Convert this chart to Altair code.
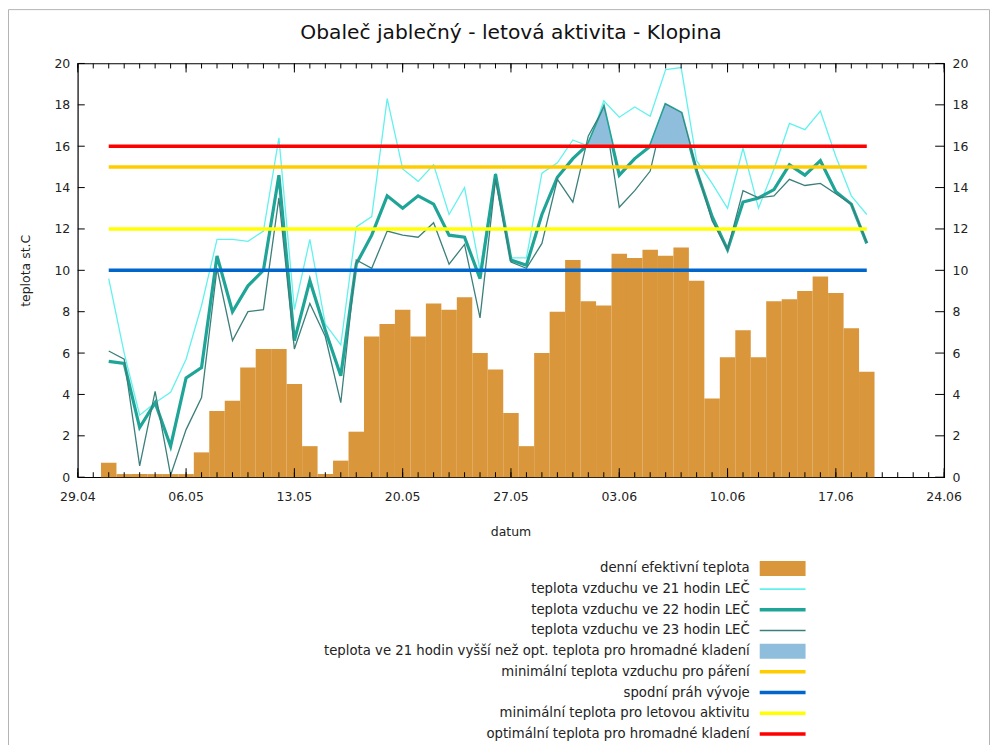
import altair as alt
import pandas as pd

# ---------------- data ----------------
first_day = "2023-05-01"
n_days = 50
dates = pd.date_range(first_day, periods=n_days, freq="D")  # 01.05 .. 19.06

effective = [0.7, 0.15, 0.15, 0.15, 0.15, 0.15, 1.2, 3.2, 3.7, 5.3,
             6.2, 6.2, 4.5, 1.5, 0.15, 0.8, 2.2, 6.8, 7.4, 8.1,
             6.8, 8.4, 8.1, 8.7, 6.0, 5.2, 3.1, 1.5, 6.0, 8.0,
             10.5, 8.5, 8.3, 10.8, 10.6, 11.0, 10.7, 11.1, 9.5, 3.8,
             5.8, 7.1, 5.8, 8.5, 8.6, 9.0, 9.7, 8.9, 7.2, 5.1]

t21 = [9.6, 6.0, 3.0, 3.6, 4.1, 5.7, 8.3, 11.5, 11.5, 11.4,
       11.9, 16.4, 8.1, 11.5, 7.4, 6.4, 12.1, 12.6, 18.3, 14.9,
       14.3, 15.1, 12.7, 14.0, 10.0, 14.7, 10.6, 10.6, 14.7, 15.2,
       16.3, 16.0, 18.2, 17.4, 17.9, 17.45, 19.7, 19.8, 15.3, 14.2,
       13.0, 15.9, 13.0, 14.9, 17.1, 16.8, 17.7, 15.5, 13.6, 12.7]

t22 = [5.6, 5.5, 2.4, 3.6, 1.5, 4.8, 5.3, 10.7, 8.0, 9.25,
       10.0, 14.6, 6.6, 9.5, 7.1, 4.9, 10.3, 11.7, 13.6, 13.0,
       13.6, 13.2, 11.7, 11.6, 9.6, 14.65, 10.5, 10.25, 12.7, 14.5,
       15.4, 16.1, 17.85, 14.6, 15.4, 16.0, 18.0, 17.6, 14.8, 12.6,
       11.0, 13.3, 13.5, 13.9, 15.1, 14.6, 15.3, 13.8, 13.2, 11.3]

t23 = [6.1, 5.7, 0.55, 4.15, 0.1, 2.3, 3.85, 10.1, 6.6, 8.0,
       8.1, 13.5, 6.2, 8.4, 6.8, 3.6, 10.5, 10.1, 11.9, 11.7,
       11.6, 12.3, 10.3, 11.25, 7.7, 14.4, 10.4, 10.1, 11.3, 14.4,
       13.3, 16.5, 17.85, 13.05, 13.85, 14.8, 18.0, 17.6, 14.9, 12.4,
       11.0, 13.85, 13.5, 13.6, 14.4, 14.1, 14.2, 13.7, 13.2, 11.35]

threshold_names = ["minimální teplota vzduchu pro páření",
                   "spodní práh vývoje",
                   "minimální teplota pro letovou aktivitu",
                   "optimální teplota pro hromadné kladení"]
threshold_values = [15, 10, 12, 16]
threshold_colors = ["#ffcc00", "#0066cc", "#ffff00", "#ff0000"]

series_names = ["denní efektivní teplota",
                "teplota vzduchu ve 21 hodin LEČ",
                "teplota vzduchu ve 22 hodin LEČ",
                "teplota vzduchu ve 23 hodin LEČ",
                "teplota ve 21 hodin vyšší než opt. teplota pro hromadné kladení"]

axis_start = "2023-04-29"
axis_end = "2023-06-24"
y_tick_values = [0, 2, 4, 6, 8, 10, 12, 14, 16, 18, 20]
title_text = "Obaleč jablečný - letová aktivita - Klopina"
x_title = "datum"
y_title = "teplota st.C"

# ---------------- styles ----------------
BAR = "#d9963a"
C21 = "#62f2ee"
C22 = "#1fa597"
C23 = "#3b7f7b"
FILL = "#8fbedc"
FONT = "DejaVu Sans"
TXT = "#222222"
W, H = 869, 415

# ---------------- tables ----------------
df = pd.DataFrame({"date": dates, "eff": effective, "t21": t21, "t22": t22, "t23": t23})
df["bar_start"] = df["date"] - pd.Timedelta(hours=12)
df["bar_end"] = df["date"] + pd.Timedelta(hours=12)

opt = threshold_values[3]
fill_rows = []
for i in range(n_days):
    fill_rows.append({"date": dates[i], "top": max(t22[i], opt)})
    if i + 1 < n_days and (t22[i] - opt) * (t22[i + 1] - opt) < 0:
        frac = (opt - t22[i]) / (t22[i + 1] - t22[i])
        fill_rows.append({"date": dates[i] + pd.Timedelta(days=1) * frac, "top": opt})
fill_df = pd.DataFrame(fill_rows)

thr_df = pd.DataFrame({"name": threshold_names, "value": threshold_values,
                       "color": threshold_colors,
                       "start": dates[0], "end": dates[-1]})

tick_days = pd.date_range(axis_start, axis_end, freq="D")
tick_df = pd.DataFrame({"date": tick_days, "major": [i % 7 == 0 for i in range(len(tick_days))]})
major_df = tick_df[tick_df["major"]].reset_index(drop=True)
major_df["label"] = major_df["date"].dt.strftime("%d.%m")
ytick_df = pd.DataFrame({"v": y_tick_values})


def dt(ts):
    return alt.DateTime(year=ts.year, month=ts.month, date=ts.day)


xscale = alt.Scale(domain=[dt(pd.Timestamp(axis_start)), dt(pd.Timestamp(axis_end))])
yscale = alt.Scale(domain=[0, 20], nice=False)

legend_df = pd.DataFrame({
    "label": series_names + threshold_names,
    "color": [BAR, C21, C22, C23, FILL] + threshold_colors,
    "width": [15, 1.6, 3.5, 1.4, 15, 3.5, 3.5, 3.5, 3.5],
    "i": list(range(9)),
})
frame_df = pd.DataFrame({"k": [0]})
xtitle_df = pd.DataFrame({"t": [x_title]})
title_df = pd.DataFrame({"t": [title_text]})

# ---------------- layers ----------------
NOAX = dict(axis=None)

bars = alt.Chart(df).mark_bar(color=BAR, strokeWidth=0).encode(
    x=alt.X("bar_start:T", scale=xscale, **NOAX),
    x2="bar_end:T",
    y=alt.Y("eff:Q", scale=yscale, **NOAX),
    y2=alt.datum(0),
)


def line(col, color, width):
    return alt.Chart(df).mark_line(color=color, strokeWidth=width, strokeJoin="miter").encode(
        x=alt.X("date:T", scale=xscale, **NOAX),
        y=alt.Y(f"{col}:Q", scale=yscale, **NOAX),
    )


l21 = line("t21", C21, 1.3)
l22 = line("t22", C22, 3.2)
l23 = line("t23", C23, 1.3)

fill = alt.Chart(fill_df).mark_area(color=FILL, opacity=1).encode(
    x=alt.X("date:T", scale=xscale, **NOAX),
    y=alt.Y("top:Q", scale=yscale, **NOAX),
    y2=alt.datum(opt),
)

thr = alt.Chart(thr_df).mark_rule(strokeWidth=3.5, strokeCap="butt").encode(
    x=alt.X("start:T", scale=xscale, **NOAX),
    x2="end:T",
    y=alt.Y("value:Q", scale=yscale, **NOAX),
    color=alt.Color("color:N", scale=None),
)

# inward ticks (gnuplot style)
top_minor = alt.Chart(tick_df).mark_rule(color="black").encode(
    x=alt.X("date:T", scale=xscale, **NOAX), y=alt.value(0), y2=alt.value(5))
top_major = alt.Chart(major_df).mark_rule(color="black").encode(
    x=alt.X("date:T", scale=xscale, **NOAX), y=alt.value(0), y2=alt.value(9))
bot_minor = alt.Chart(tick_df).mark_rule(color="black").encode(
    x=alt.X("date:T", scale=xscale, **NOAX), y=alt.value(H), y2=alt.value(H - 5))
bot_major = alt.Chart(major_df).mark_rule(color="black").encode(
    x=alt.X("date:T", scale=xscale, **NOAX), y=alt.value(H), y2=alt.value(H - 9))

# date labels under the plot, the x title and the chart title
x_labels = alt.Chart(major_df).mark_text(font=FONT, fontSize=12.5, color=TXT,
                                         baseline="middle", align="center").encode(
    x=alt.X("date:T", scale=xscale, **NOAX), y=alt.value(H + 19.5), text="label:N")
x_title_mark = alt.Chart(xtitle_df).mark_text(font=FONT, fontSize=12.5, color=TXT,
                                              baseline="middle", align="center").encode(
    x=alt.value(W / 2), y=alt.value(H + 54.5), text="t:N")
title_mark = alt.Chart(title_df).mark_text(font=FONT, fontSize=20.3, color="#111111",
                                           baseline="middle", align="center").encode(
    x=alt.value(W / 2), y=alt.value(-30.5), text="t:N")

left_ticks = alt.Chart(ytick_df).mark_rule(color="black").encode(
    y=alt.Y("v:Q", scale=yscale,
            axis=alt.Axis(orient="left", values=y_tick_values, labelPadding=8,
                          title=y_title, titlePadding=22)),
    x=alt.value(0), x2=alt.value(7))
right_ticks = alt.Chart(ytick_df).mark_rule(color="black").encode(
    y=alt.Y("v:Q", scale=yscale,
            axis=alt.Axis(orient="right", values=y_tick_values, labelPadding=8, title=None)),
    x=alt.value(W - 9), x2=alt.value(W))

# legend below the plot
leg_base = alt.Chart(legend_df).transform_calculate(ypix="506.5 + 20.75 * datum.i")
leg_text = leg_base.mark_text(align="right", baseline="middle", font=FONT, fontSize=13.3,
                              color=TXT).encode(
    x=alt.value(674), y=alt.Y("ypix:Q", scale=None, axis=None), text="label:N")
leg_sym = leg_base.mark_rule(strokeCap="butt").encode(
    x=alt.value(684), x2=alt.value(730), y=alt.Y("ypix:Q", scale=None, axis=None),
    color=alt.Color("color:N", scale=None),
    strokeWidth=alt.StrokeWidth("width:Q", scale=None))

# light frame around the whole picture
frame = alt.Chart(frame_df).mark_rect(filled=False, stroke="#b4b4b4", strokeWidth=1).encode(
    x=alt.value(-69.5), x2=alt.value(914.5), y=alt.value(-54), y2=alt.value(720))

chart = alt.layer(
    frame, bars, l21, l22, l23, fill, thr,
    top_minor, top_major, bot_minor, bot_major, x_labels, x_title_mark, title_mark,
    left_ticks, right_ticks, leg_text, leg_sym,
).resolve_axis(y="independent").properties(
    width=W, height=H,
    autosize=alt.AutoSizeParams(type="none"),
    padding={"left": 70, "top": 54.5, "right": 46, "bottom": 268},
).configure_view(stroke="black", strokeWidth=1.2).configure_axis(
    labelFont=FONT, labelFontSize=12.5, labelColor=TXT,
    titleFont=FONT, titleFontSize=12.5, titleFontWeight="normal", titleColor=TXT,
    domain=False, ticks=False, grid=False,
)

chart.save("out.html", embed_options={"renderer": "svg", "actions": False})
